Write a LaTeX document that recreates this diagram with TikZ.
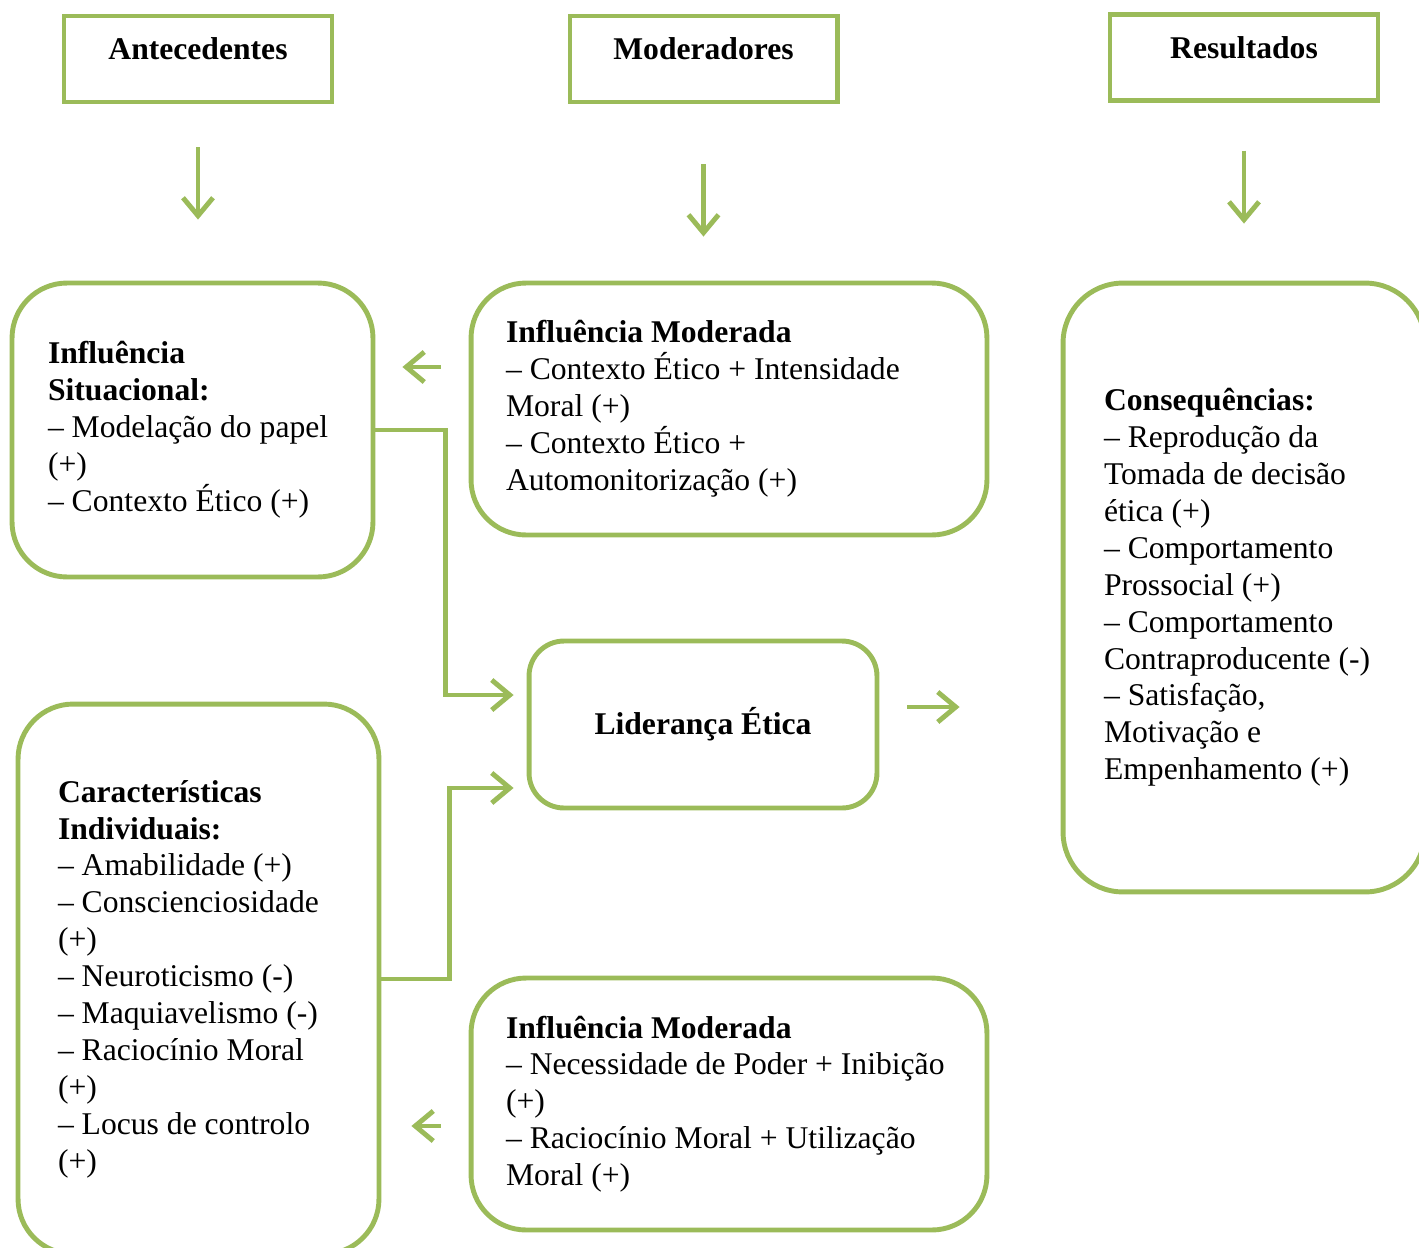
\documentclass[tikz,border=0pt]{standalone}
\usepackage{fontspec}
\setmainfont{Liberation Serif}
\usepackage{tikz}
\usetikzlibrary{arrows.meta}
\definecolor{leafgreen}{HTML}{9BBB59}

\begin{document}
\begin{tikzpicture}[x=0.02cm,y=-0.02cm,
  font=\fontsize{18}{21}\selectfont,
  headbox/.style={draw=leafgreen,line width=2.3pt,minimum width=5.36cm,minimum height=1.72cm,text depth=0.4cm,font=\fontsize{18}{21}\selectfont\bfseries},
  roundbox/.style={draw=leafgreen,line width=2.8pt,rounded corners=1.1cm,align=flush left},
  arr/.style={draw=leafgreen,line width=2.8pt,-{Straight Barb[length=0.36cm,width=0.6cm]}}]
\useasboundingbox (0,0) rectangle (1419,1247);
% top row
\node[headbox] (ante) at (198,59) {Antecedentes};
\node[headbox] (mode) at (703.5,59) {Moderadores};
\node[headbox] (resu) at (1244,57.5) {Resultados};
% boxes
\node[roundbox,minimum width=7.22cm,minimum height=5.88cm,text width=5.78cm,inner xsep=0.72cm] (sit) at (192.5,430)
  {\textbf{Influência}\\ \textbf{Situacional:}\\ – Modelação do papel\\ (+)\\ – Contexto Ético (+)};
\node[roundbox,minimum width=10.32cm,minimum height=5.04cm,text width=8.92cm,inner xsep=0.7cm] (mod1) at (729,409)
  {\textbf{Influência Moderada}\\ – Contexto Ético + Intensidade\\ Moral (+)\\ – Contexto Ético +\\ Automonitorização (+)};
\node[roundbox,minimum width=7.24cm,minimum height=12.18cm,text width=5.6cm,inner xsep=0.82cm,rounded corners=1.2cm] (cons) at (1244,587.5)
  {\textbf{Consequências:}\\ – Reprodução da\\ Tomada de decisão\\ ética (+)\\ – Comportamento\\ Prossocial (+)\\ – Comportamento\\ Contraproducente (-)\\ – Satisfação,\\ Motivação e\\ Empenhamento (+)};
\node[roundbox,minimum width=6.96cm,minimum height=3.34cm,rounded corners=0.7cm,align=center,font=\fontsize{18}{21}\selectfont\bfseries] (lid) at (703,724.5) {Liderança Ética};
\node[roundbox,minimum width=7.22cm,minimum height=11cm,text width=5.62cm,inner xsep=0.8cm] (car) at (198.5,979)
  {\textbf{Características}\\ \textbf{Individuais:}\\ – Amabilidade (+)\\ – Conscienciosidade\\ (+)\\ – Neuroticismo (-)\\ – Maquiavelismo (-)\\ – Raciocínio Moral\\ (+)\\ – Locus de controlo\\ (+)};
\node[roundbox,minimum width=10.32cm,minimum height=5.04cm,text width=8.92cm,inner xsep=0.7cm] (mod2) at (729,1104)
  {\textbf{Influência Moderada}\\ – Necessidade de Poder + Inibição\\ (+)\\ – Raciocínio Moral + Utilização\\ Moral (+)};
% arrows
\draw[arr,shorten <=0.86cm,shorten >=1.22cm] (ante.south) -- (ante.south |- sit.north);
\draw[arr,shorten <=1.2cm,shorten >=0.88cm] (mode.south) -- (mode.south |- mod1.north);
\draw[arr,shorten <=0.96cm,shorten >=1.14cm] (resu.south) -- (resu.south |- cons.north);
\draw[arr,shorten <=0.56cm,shorten >=0.54cm] ([yshift=0.84cm]mod1.west) -- ([yshift=0.84cm]mod1.west -| sit.east);
\draw[arr,shorten <=0.56cm,shorten >=0.6cm] ([yshift=-0.44cm]mod2.west) -- ([yshift=-0.44cm]mod2.west -| car.east);
\draw[arr,shorten <=0.56cm,shorten >=2.02cm] ([yshift=0.35cm]lid.east) -- ([yshift=0.35cm]lid.east -| cons.west);
\draw[arr,shorten >=0.26cm] (sit.east) -- ++(1.4cm,0) |- ([yshift=0.59cm]lid.west);
\draw[arr,shorten >=0.26cm] (car.east) -- ++(1.36cm,0) |- ([yshift=-1.27cm]lid.west);
\end{tikzpicture}
\end{document}
